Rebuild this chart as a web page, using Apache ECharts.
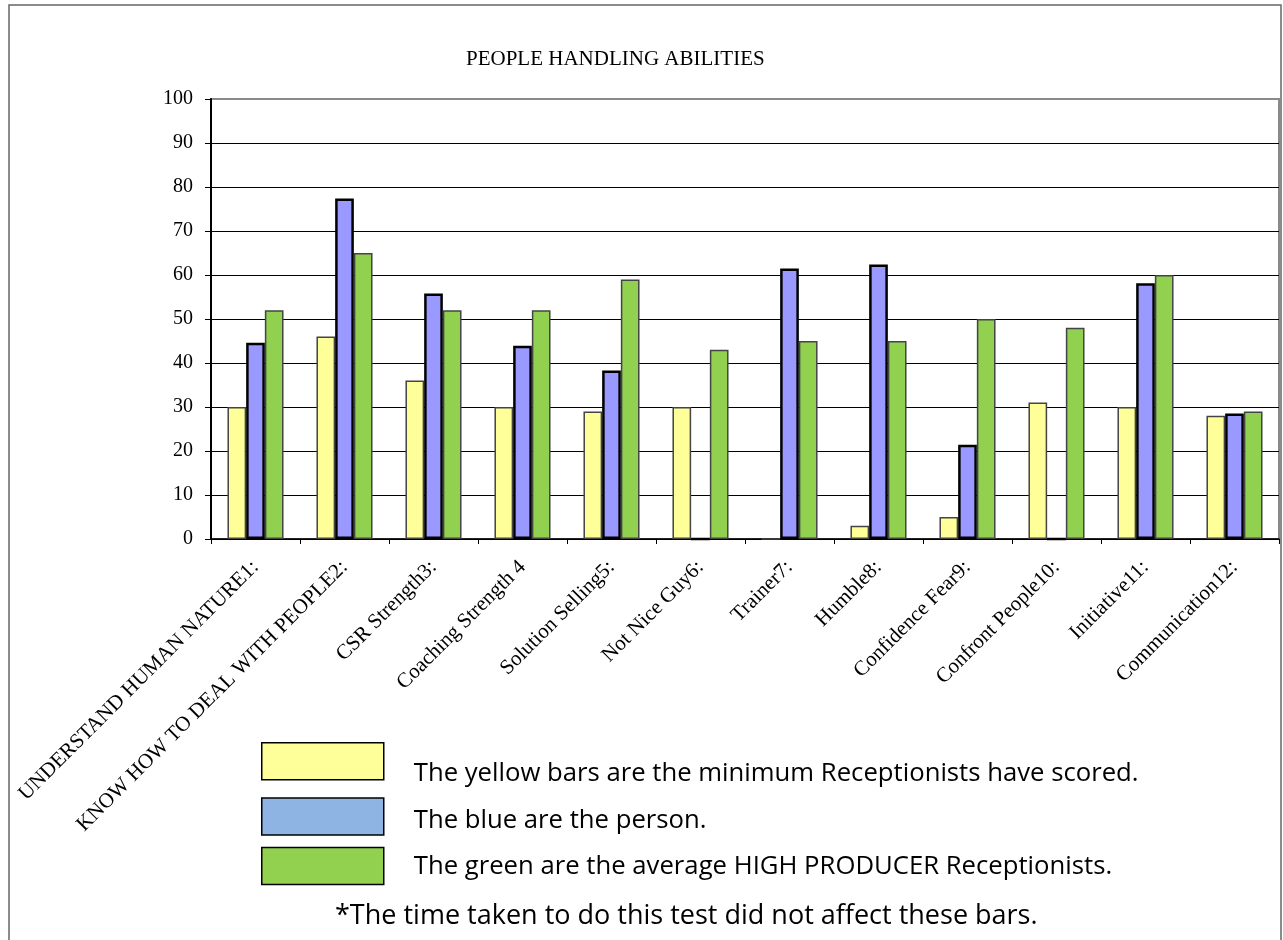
<!DOCTYPE html>
<html>
<head>
<meta charset="utf-8">
<script src="https://cdn.jsdelivr.net/npm/echarts@6/dist/echarts.min.js"></script>
<style>
  html, body { margin: 0; padding: 0; background: #fff; }
  #chart { width: 1283px; height: 940px; }
</style>
</head>
<body>
<div id="chart"></div>
<script>
// Ability categories along the x axis
const categories = [
  'UNDERSTAND HUMAN NATURE1:',
  'KNOW HOW TO DEAL WITH PEOPLE2:',
  'CSR Strength3:',
  'Coaching Strength 4',
  'Solution Selling5:',
  'Not Nice Guy6:',
  'Trainer7:',
  'Humble8:',
  'Confidence Fear9:',
  'Confront People10:',
  'Initiative11:',
  'Communication12:'
];

// Minimum scores of receptionists (yellow)
const minimumScores = [30, 46, 36, 30, 29, 30, 0, 3, 5, 31, 30, 28];
// Scores of the person (blue)
const personScores = [44.6, 77.4, 55.8, 43.9, 38.3, 0, 61.5, 62.4, 21.4, 0, 58.1, 28.5];
// Average of high producer receptionists (green)
const highProducerScores = [52, 65, 52, 52, 59, 43, 45, 45, 50, 48, 60, 29];

const yTicks = { min: 0, max: 100, interval: 10 };

const legendLines = [
  'The yellow bars are the minimum Receptionists have scored.',
  'The blue are the person.',
  'The green are the average HIGH PRODUCER Receptionists.'
];
const footnote = '*The time taken to do this test did not affect these bars.';

const serif = '"Liberation Serif", "Times New Roman", serif';
const sans = '"Open Sans", "Noto Sans", sans-serif';

const chart = echarts.init(document.getElementById('chart'), null, { renderer: 'canvas' });

const barBase = {
  type: 'bar',
  barGap: '0%',
  barCategoryGap: '37%',
  silent: true
};

// gridlines are black except the top one, which merges into the grey plot frame
const gridLineColors = ['#000', '#000', '#000', '#000', '#000', '#000',
  '#000', '#000', '#000', '#000', '#8a8a8a'];

// each legend line sits a little lower beside its swatch
const legendFont = 25.7;
const legendRich = {
  l0: { fontFamily: sans, fontSize: legendFont, color: '#000', padding: [24, 0, 0, 25] },
  l1: { fontFamily: sans, fontSize: legendFont, color: '#000', padding: [8, 0, 0, 25] },
  l2: { fontFamily: sans, fontSize: legendFont, color: '#000', padding: [2, 0, 0, 25] }
};

chart.setOption({
  animation: false,
  backgroundColor: '#ffffff',
  title: {
    text: 'PEOPLE HANDLING ABILITIES',
    left: 461,
    top: 44,
    textStyle: { fontFamily: serif, fontSize: 21, fontWeight: 'normal', color: '#000' }
  },
  grid: {
    left: 211,
    right: 4,
    top: 99,
    bottom: 401,
    show: true,
    borderColor: '#8a8a8a',
    borderWidth: 2,
    backgroundColor: 'transparent'
  },
  legend: {
    orient: 'vertical',
    left: 256,
    top: 737,
    itemWidth: 122,
    itemHeight: 37,
    itemGap: 11,
    icon: 'rect',
    selectedMode: false,
    formatter: (name) => '{l' + legendLines.indexOf(name) + '|' + name + '}',
    textStyle: { fontFamily: sans, fontSize: legendFont, color: '#000', rich: legendRich },
    data: [
      { name: legendLines[0], itemStyle: { color: '#ffff99', borderColor: '#000', borderWidth: 1.5 } },
      { name: legendLines[1], itemStyle: { color: '#8db4e2', borderColor: '#000', borderWidth: 1.5 } },
      { name: legendLines[2], itemStyle: { color: '#92d050', borderColor: '#000', borderWidth: 1.5 } }
    ]
  },
  xAxis: {
    type: 'category',
    data: categories,
    axisLine: { show: true, lineStyle: { color: '#000', width: 1.5 } },
    axisTick: { show: true, length: 5, lineStyle: { color: '#000' } },
    axisLabel: {
      interval: 0,
      rotate: 45,
      margin: 25,
      fontFamily: serif,
      fontSize: 21,
      color: '#000'
    },
    splitLine: { show: false }
  },
  yAxis: {
    type: 'value',
    min: yTicks.min,
    max: yTicks.max,
    interval: yTicks.interval,
    axisLine: { show: true, lineStyle: { color: '#000', width: 2 } },
    axisTick: { show: true, length: 6, lineStyle: { color: '#000' } },
    axisLabel: { fontFamily: serif, fontSize: 20, color: '#000', margin: 18 },
    splitLine: { show: true, lineStyle: { color: gridLineColors, width: 1 } }
  },
  series: [
    Object.assign({}, barBase, {
      name: legendLines[0],
      data: minimumScores,
      itemStyle: { color: '#ffff99', borderColor: '#444', borderWidth: 1.5 }
    }),
    Object.assign({}, barBase, {
      name: legendLines[1],
      data: personScores,
      itemStyle: { color: '#9999ff', borderColor: '#000', borderWidth: 2.5 }
    }),
    Object.assign({}, barBase, {
      name: legendLines[2],
      data: highProducerScores,
      itemStyle: { color: '#92d050', borderColor: '#444', borderWidth: 1.5 }
    })
  ],
  graphic: [
    {
      type: 'rect',
      shape: { x: 9, y: 5, width: 1272, height: 960 },
      style: { fill: 'none', stroke: '#666', lineWidth: 1.5 },
      silent: true,
      z: 0
    },
    {
      type: 'text',
      left: 335,
      top: 903,
      style: { text: footnote, font: '27px ' + sans, fill: '#000' },
      silent: true
    }
  ]
});
</script>
</body>
</html>
